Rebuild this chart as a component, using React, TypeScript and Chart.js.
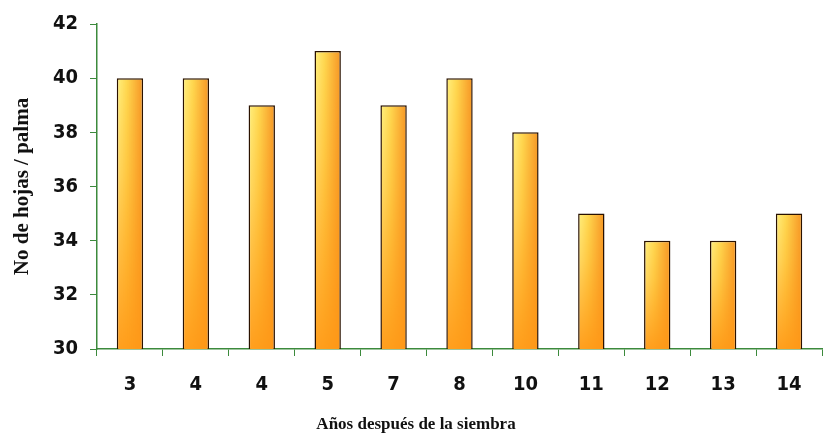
import React, { useEffect, useRef } from "react";
import { Chart, registerables } from "chart.js";

Chart.register(...registerables);

const categories = ["3", "4", "4", "5", "7", "8", "10", "11", "12", "13", "14"];
const leaves = [40, 40, 39, 41, 39, 40, 38, 35, 34, 34, 35];
const yTitle = "No de hojas / palma";
const xTitle = "Años después de la siembra";

const GREEN = "#3c8a3c";
const BAR_PCT = 0.4;
const TICK_FONT = { family: "'Liberation Sans Narrow', 'DejaVu Sans Condensed', sans-serif", size: 20, weight: "bold" as const };

function barFill(ctx: any) {
  const c = ctx.chart;
  const xs = c.scales?.x;
  const ys = c.scales?.y;
  const fallback = "#f8a828";
  if (!xs || !ys || ctx.dataIndex === undefined) return fallback;
  const cx = xs.getPixelForValue(ctx.dataIndex);
  const step = (xs.right - xs.left) / categories.length;
  const w = Math.round(step * BAR_PCT);
  const top = ys.getPixelForValue(leaves[ctx.dataIndex]);
  const bottom = ys.getPixelForValue(ys.min);
  const h = Math.round(bottom - top);
  if (![cx, w, top, h].every((v) => Number.isFinite(v)) || w <= 0 || h <= 0) return fallback;
  const off = document.createElement("canvas");
  off.width = w + 4;
  off.height = h + 4;
  const o = off.getContext("2d")!;
  const hg = o.createLinearGradient(0, 0, off.width, 0);
  hg.addColorStop(0, "#fff68a");
  hg.addColorStop(0.4, "#ffd850");
  hg.addColorStop(0.8, "#f9a630");
  hg.addColorStop(1, "#f29222");
  o.fillStyle = hg;
  o.fillRect(0, 0, off.width, off.height);
  const vg = o.createLinearGradient(0, 0, 0, off.height);
  vg.addColorStop(0, "rgba(255,150,20,0)");
  vg.addColorStop(0.35, "rgba(255,150,20,0.25)");
  vg.addColorStop(1, "rgba(255,152,22,0.92)");
  o.fillStyle = vg;
  o.fillRect(0, 0, off.width, off.height);
  const pat = c.ctx.createPattern(off, "repeat");
  if (!pat) return fallback;
  pat.setTransform(new DOMMatrix([1, 0, 0, 1, cx - w / 2 - 2, top - 2]));
  return pat;
}

export default function App() {
  const ref = useRef<HTMLCanvasElement | null>(null);

  useEffect(() => {
    document.body.style.margin = "0";
    const canvas = ref.current!;
    const chart = new Chart(canvas, {
      type: "bar",
      data: {
        labels: categories,
        datasets: [
          {
            data: leaves,
            borderColor: "#2a1200",
            borderWidth: 1.5,
            categoryPercentage: 1,
            barPercentage: BAR_PCT,
            backgroundColor: barFill,
          },
        ],
      },
      options: {
        animation: false,
        responsive: false,
        maintainAspectRatio: false,
        layout: { padding: { top: 12, right: 5, left: 10, bottom: 6 } },
        plugins: {
          legend: { display: false },
          tooltip: { enabled: false },
          title: {
            display: true,
            position: "bottom",
            text: xTitle,
            color: "#111",
            padding: { top: 17, bottom: 1 },
            font: { family: "'Liberation Serif', serif", size: 17, weight: "bold" },
          },
        },
        scales: {
          x: {
            offset: true,
            grid: {
              offset: true,
              drawOnChartArea: false,
              drawTicks: true,
              tickLength: 7,
              color: GREEN,
            },
            border: { color: GREEN, width: 1.5 },
            ticks: {
              color: "#111",
              padding: 17,
              font: TICK_FONT,
            },
            afterFit: (s: any) => {
              s.height = 48.6;
            },
          },
          y: {
            min: 30,
            max: 42,
            ticks: {
              stepSize: 2,
              color: "#111",
              padding: 12,
              font: TICK_FONT,
            },
            grid: {
              drawOnChartArea: false,
              drawTicks: true,
              tickLength: 7,
              color: GREEN,
            },
            border: { color: GREEN, width: 1.5 },
            title: {
              display: true,
              text: yTitle,
              color: "#111",
              padding: { top: 0, bottom: 8 },
              font: { family: "'Liberation Serif', serif", size: 21, weight: "bold" },
            },
            afterFit: (s: any) => {
              s.width = 97 - 10;
            },
          },
        },
      },
    });
    return () => chart.destroy();
  }, []);

  return (
    <div style={{ width: 827, height: 442, background: "#fff" }}>
      <canvas ref={ref} width={827} height={442} style={{ display: "block" }} />
    </div>
  );
}
